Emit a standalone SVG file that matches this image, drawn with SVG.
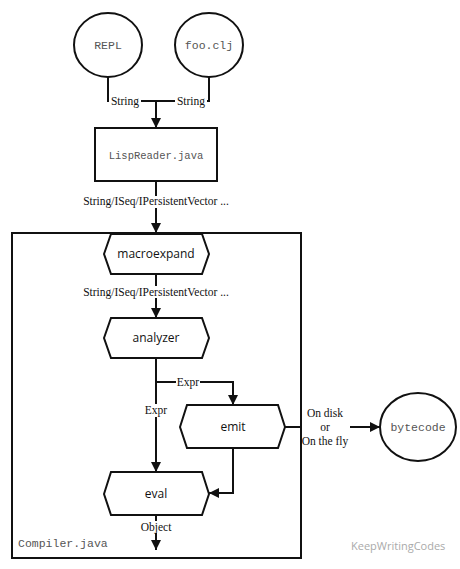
<svg xmlns="http://www.w3.org/2000/svg" width="460" height="569" viewBox="0 0 460 569">
<defs>
<marker id="ah" markerWidth="10" markerHeight="12" refX="10" refY="5" orient="auto" markerUnits="userSpaceOnUse">
<path d="M0,0 L10,5 L0,10 z" fill="#111"/>
</marker>
<style>
.ln{fill:none;stroke:#111;stroke-width:2}
.shp{fill:#fff;stroke:#111;stroke-width:2}
.mono{font-family:"Liberation Mono",monospace;font-size:10.5px;fill:#555}
.big{font-size:11.5px}
.hx{font-family:"Open Sans","Noto Sans",sans-serif;font-size:12px;fill:#111}
.lbl{font-family:"Liberation Serif",serif;font-size:11.5px;fill:#111}
.bg{fill:#fff}
</style>
</defs>
<rect width="460" height="569" fill="#fff"/>
<g id="container">
<rect x="12" y="233" width="289" height="325" class="ln"/>
<text x="18" y="547" class="mono big">Compiler.java</text>
</g>
<g id="connectors">
<path d="M108,77 V101 H156" class="ln"/>
<path d="M209,77 V101 H156" class="ln"/>
<path d="M156,101 V128" class="ln" marker-end="url(#ah)"/>
<rect x="109" y="95" width="32" height="12" class="bg"/>
<text x="125" y="105" class="lbl" text-anchor="middle">String</text>
<rect x="175" y="95" width="32" height="12" class="bg"/>
<text x="191" y="105" class="lbl" text-anchor="middle">String</text>
<path d="M156,181 V233" class="ln" marker-end="url(#ah)"/>
<rect x="82" y="196" width="150" height="12" class="bg"/>
<text x="156" y="205" class="lbl" text-anchor="middle">String/ISeq/IPersistentVector ...</text>
<path d="M156,274 V318" class="ln" marker-end="url(#ah)"/>
<rect x="82" y="286" width="150" height="12" class="bg"/>
<text x="156" y="296" class="lbl" text-anchor="middle">String/ISeq/IPersistentVector ...</text>
<path d="M156,358 V472" class="ln" marker-end="url(#ah)"/>
<path d="M156,382 H233 V405" class="ln" marker-end="url(#ah)"/>
<rect x="176" y="377" width="24" height="11" class="bg"/>
<text x="188" y="386" class="lbl" text-anchor="middle">Expr</text>
<rect x="144" y="404" width="24" height="13" class="bg"/>
<text x="156" y="414" class="lbl" text-anchor="middle">Expr</text>
<path d="M233,448 V493 H209" class="ln" marker-end="url(#ah)"/>
<path d="M285,427 H301" class="ln"/>
<path d="M350,427 H380" class="ln" marker-end="url(#ah)"/>
<text x="325" y="417" class="lbl" text-anchor="middle">On disk</text>
<text x="325" y="431" class="lbl" text-anchor="middle">or</text>
<text x="325" y="445" class="lbl" text-anchor="middle">On the fly</text>
<path d="M156,515 V550" class="ln" marker-end="url(#ah)"/>
<rect x="139" y="521" width="34" height="12" class="bg"/>
<text x="156" y="531" class="lbl" text-anchor="middle">Object</text>
</g>
<g id="repl">
<ellipse cx="108" cy="45" rx="34" ry="32" class="shp"/>
<text x="108" y="49" class="mono big" text-anchor="middle">REPL</text>
</g>
<g id="fooclj">
<ellipse cx="209" cy="45" rx="34" ry="32" class="shp"/>
<text x="209" y="49" class="mono big" text-anchor="middle">foo.clj</text>
</g>
<g id="lispreader">
<rect x="95" y="128" width="122" height="53" class="shp"/>
<text x="156" y="159" class="mono" text-anchor="middle">LispReader.java</text>
</g>
<g id="macroexpand">
<polygon points="104,254 111,234 202,234 209,254 202,274 111,274" class="shp"/>
<text x="156" y="258" class="hx" text-anchor="middle">macroexpand</text>
</g>
<g id="analyzer">
<polygon points="104,338 111,318 202,318 209,338 202,358 111,358" class="shp"/>
<text x="156" y="342" class="hx" text-anchor="middle">analyzer</text>
</g>
<g id="emit">
<polygon points="180,427 187,405 278,405 285,427 278,448 187,448" class="shp"/>
<text x="233" y="431" class="hx" text-anchor="middle">emit</text>
</g>
<g id="eval">
<polygon points="104,494 111,472 202,472 209,494 202,515 111,515" class="shp"/>
<text x="156" y="498" class="hx" text-anchor="middle">eval</text>
</g>
<g id="bytecode">
<ellipse cx="418" cy="427" rx="38" ry="34" class="shp"/>
<text x="418" y="431" class="mono big" text-anchor="middle">bytecode</text>
</g>
<g id="watermark">
<text x="351" y="550" font-family="'Open Sans','Noto Sans',sans-serif" font-size="11" fill="#aaa">KeepWritingCodes</text>
</g>
</svg>
